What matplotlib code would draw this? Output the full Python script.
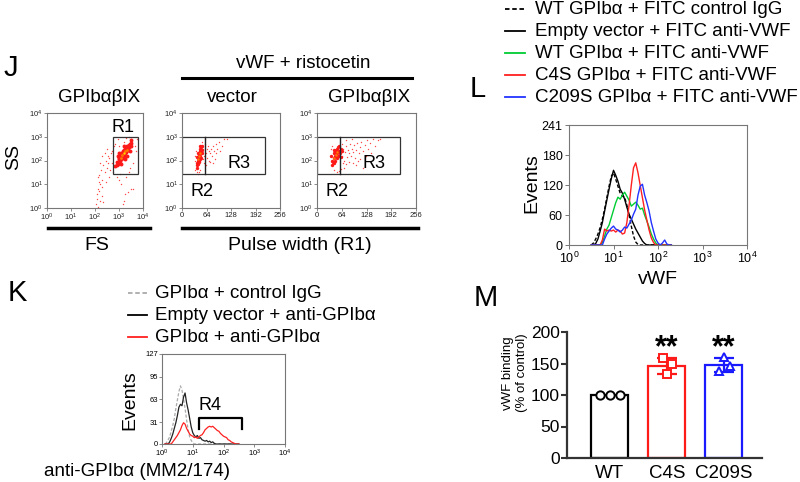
import numpy as np
import matplotlib
matplotlib.use("Agg")
import matplotlib.pyplot as plt
from matplotlib.lines import Line2D
from matplotlib.patches import Rectangle

plt.rcParams['font.family'] = ['Liberation Sans', 'DejaVu Sans']
plt.rcParams['mathtext.fontset'] = 'custom'
plt.rcParams['mathtext.rm'] = 'Liberation Sans'
plt.rcParams['mathtext.it'] = 'Liberation Sans:italic'
plt.rcParams['mathtext.bf'] = 'Liberation Sans:bold'

# ---------------- data ----------------
# panel J, scatter 1: log10(FS), log10(SS)
j1_sparse_fs = [2.05, 2.10, 2.12, 2.15, 2.08, 2.20, 2.18, 2.25, 2.30, 2.28, 2.35, 2.40, 2.45, 2.50, 2.55,
                2.60, 2.62, 2.65, 2.70, 2.72, 2.20, 2.30, 2.40, 2.50, 2.55, 2.12, 2.30, 2.45, 2.60, 2.75,
                2.80, 2.85, 2.90, 3.00, 3.10, 3.20, 3.15, 3.25, 3.50, 3.60, 3.30, 3.40, 3.60, 3.70, 3.50,
                3.40, 3.30, 3.55, 3.65, 3.20, 3.00, 3.05, 3.45, 2.95, 3.75, 2.22, 2.14, 2.33, 2.17, 3.38]
j1_sparse_ss = [0.15, 0.40, 0.80, 1.10, 0.60, 0.30, 1.40, 1.60, 0.90, 1.20, 1.80, 1.50, 2.00, 1.70, 1.90,
                2.10, 1.60, 2.30, 1.90, 2.40, 1.90, 2.20, 2.30, 2.50, 2.20, 0.05, 0.50, 1.10, 1.30, 1.50,
                2.60, 2.70, 1.30, 1.20, 1.00, 0.30, 0.15, 0.60, 0.80, 0.80, 1.30, 1.50, 1.90, 2.40, 2.90,
                3.00, 2.95, 2.70, 2.60, 2.80, 2.60, 1.45, 1.70, 2.90, 2.90, 1.00, 1.30, 0.25, 0.70, 0.67]
j1_core_fs = [2.85, 2.90, 2.92, 2.95, 2.98, 3.00, 3.02, 3.05, 3.05, 3.08, 3.10, 3.10, 3.12, 3.15, 3.15,
              3.18, 3.20, 3.20, 3.22, 3.25, 3.25, 3.28, 3.30, 3.30, 3.32, 3.35, 3.38, 3.40, 3.42, 3.45,
              3.48, 3.50, 3.00, 3.10, 3.25, 3.35, 2.95, 3.20, 3.45, 3.52]
j1_core_ss = [1.75, 1.80, 1.95, 1.85, 2.05, 1.90, 2.10, 2.00, 2.20, 2.15, 2.30, 2.05, 2.25, 2.10, 2.40,
              2.30, 2.20, 2.45, 2.35, 2.50, 2.30, 2.40, 2.55, 2.35, 2.50, 2.60, 2.45, 2.65, 2.55, 2.70,
              2.60, 2.75, 2.30, 1.85, 2.05, 2.20, 2.20, 2.60, 2.40, 2.85]
j1_hot_fs = [3.08, 3.14, 3.20, 3.26, 3.32]
j1_hot_ss = [2.12, 2.22, 2.30, 2.38, 2.46]

# panel J, scatter 2 (vector): pulse width, log10(SS)
j2_core_pw = [38, 40, 41, 42, 43, 44, 44, 45, 46, 46, 47, 48, 48, 49, 50, 51, 52, 40, 42, 50, 53, 39, 45, 47]
j2_core_ss = [1.80, 1.90, 2.00, 1.85, 2.10, 2.00, 2.25, 2.15, 2.30, 2.05, 2.40, 2.20, 2.50, 2.35, 2.55,
              2.30, 2.60, 2.15, 2.30, 2.10, 2.45, 1.70, 1.95, 2.60]
j2_hot_pw = [43, 45, 47]
j2_hot_ss = [2.08, 2.20, 2.32]
j2_sparse_pw = [35, 38, 41, 36, 34, 33, 55, 58, 60, 62, 64, 66, 68, 70, 72, 75, 78, 80, 84, 88,
                92, 96, 100, 105, 110, 117, 57, 63, 70, 74, 60, 52, 56, 85, 90, 82, 48, 44]
j2_sparse_ss = [1.60, 1.50, 1.45, 2.40, 2.00, 2.20, 2.50, 2.20, 2.70, 2.30, 2.50, 2.10, 2.60, 2.40,
                2.30, 2.50, 2.20, 2.60, 2.40, 2.30, 2.50, 2.80, 2.40, 2.60, 2.90, 2.90, 1.90, 1.80,
                2.00, 1.95, 2.90, 2.80, 2.05, 2.05, 2.70, 1.90, 1.60, 1.50]

# panel J, scatter 3 (GPIbaBIX): pulse width, log10(SS)
j3_core_pw = [40, 42, 44, 45, 46, 47, 48, 49, 50, 51, 52, 53, 54, 55, 56, 57, 58, 43, 45, 60, 62, 61, 64, 38, 36]
j3_core_ss = [1.80, 1.95, 2.10, 1.90, 2.20, 2.00, 2.35, 2.15, 2.45, 2.25, 2.50, 2.10, 2.35, 2.55, 2.20,
              2.40, 2.60, 2.30, 2.45, 2.30, 2.50, 2.15, 2.40, 2.00, 2.20]
j3_hot_pw = [45, 48, 51]
j3_hot_ss = [2.10, 2.22, 2.34]
j3_sparse_pw = [65, 68, 70, 72, 75, 78, 80, 82, 85, 88, 90, 92, 95, 98, 100, 104, 108, 110, 115, 120,
                124, 128, 132, 138, 144, 150, 158, 163, 66, 74, 84, 94, 105, 118, 64, 76, 90, 70, 62,
                58, 52, 45, 35, 38, 100, 112, 126, 140]
j3_sparse_ss = [2.20, 2.50, 2.00, 2.35, 2.60, 2.15, 2.45, 2.30, 2.70, 2.20, 2.50, 2.35, 2.65, 2.10,
                2.45, 2.75, 2.30, 2.55, 2.80, 2.40, 2.65, 2.85, 2.50, 2.75, 2.90, 2.60, 2.85, 2.90,
                1.90, 1.85, 1.95, 1.90, 2.00, 1.70, 2.70, 2.85, 2.90, 1.70, 1.65, 1.55, 1.50, 1.60,
                2.50, 2.60, 1.80, 2.05, 2.20, 2.30]

# panel L histograms (x = log10 vWF)
l_logx = [0.50, 0.55, 0.60, 0.65, 0.70, 0.75, 0.80, 0.85, 0.90, 0.95, 1.00, 1.05, 1.10, 1.15, 1.20,
          1.25, 1.30, 1.35, 1.40, 1.45, 1.50, 1.55, 1.60, 1.65, 1.70, 1.75, 1.80, 1.85, 1.90, 1.95,
          2.00, 2.05, 2.10, 2.15, 2.20, 2.25, 2.30]
l_ctrl_igg = [0, 4, 12, 22, 35, 52, 72, 95, 118, 138, 145, 132, 118, 104, 98, 96, 80, 60, 38, 18,
              6, 1, 0, 0, 0, 0, 0, 0, 0, 0, 0, 0, 0, 0, 0, 0, 0]
l_empty = [0, 0, 3, 12, 28, 45, 68, 90, 112, 133, 150, 140, 128, 112, 104, 92, 76, 62, 52, 42,
           32, 24, 16, 8, 3, 0, 0, 0, 0, 0, 0, 0, 0, 0, 0, 0, 0]
l_wt = [0, 0, 0, 0, 0, 5, 18, 32, 40, 55, 70, 85, 96, 92, 100, 106, 98, 90, 78, 82,
        86, 80, 72, 74, 60, 48, 36, 22, 12, 4, 0, 0, 0, 0, 0, 0, 0]
l_c4s = [0, 0, 0, 0, 0, 10, 32, 28, 30, 28, 30, 26, 30, 28, 22, 24, 45, 80, 120, 155,
         165, 145, 120, 95, 70, 50, 30, 14, 5, 0, 0, 0, 0, 0, 0, 0, 0]
l_c209s = [0, 0, 0, 0, 0, 0, 12, 22, 28, 34, 38, 32, 30, 26, 30, 36, 34, 42, 50, 62,
           72, 100, 118, 122, 100, 85, 68, 45, 28, 12, 4, 0, 4, 10, 2, 0, 0]
l_labels = ['WT GPIbα + FITC control IgG', 'Empty vector + FITC anti-VWF', 'WT GPIbα + FITC anti-VWF',
            'C4S GPIbα + FITC anti-VWF', 'C209S GPIbα + FITC anti-VWF']

# panel K histograms (x = log10 anti-GPIba)
k_logx = [0.10, 0.15, 0.20, 0.25, 0.30, 0.35, 0.40, 0.45, 0.50, 0.55, 0.60, 0.65, 0.70, 0.75, 0.80,
          0.85, 0.90, 0.95, 1.00, 1.05, 1.10, 1.15, 1.20, 1.25, 1.30, 1.35, 1.40, 1.45, 1.50, 1.55,
          1.60, 1.65, 1.70, 1.75, 1.80, 1.85, 1.90, 1.95, 2.00, 2.05, 2.10, 2.15, 2.20, 2.25, 2.30,
          2.35, 2.40, 2.45, 2.50]
k_ctrl = [0, 2, 6, 10, 18, 26, 36, 50, 62, 74, 82, 76, 64, 50, 34, 20, 10, 5, 2, 0,
          0, 0, 0, 0, 0, 0, 0, 0, 0, 0, 0, 0, 0, 0, 0, 0, 0, 0, 0, 0, 0, 0, 0, 0, 0, 0, 0, 0, 0]
k_empty = [0, 0, 0, 3, 8, 14, 22, 30, 40, 52, 56, 54, 66, 72, 58, 48, 36, 24, 16, 12,
           10, 12, 8, 9, 6, 5, 4, 5, 3, 4, 2, 3, 1, 0, 0, 0, 0, 0, 0, 0, 0, 0, 0, 0, 0, 0, 0, 0, 0]
k_gpiba = [0, 0, 0, 0, 0, 3, 6, 9, 12, 16, 20, 26, 30, 28, 22, 18, 14, 12, 11, 9,
           10, 8, 10, 12, 13, 16, 20, 22, 24, 25, 24, 25, 23, 21, 19, 18, 15, 13, 11, 10,
           9, 6, 5, 3, 2, 1, 0, 0, 0]
k_labels = ['GPIbα + control IgG', 'Empty vector + anti-GPIbα', 'GPIbα + anti-GPIbα']

# panel M
m_groups = ['WT', 'C4S', 'C209S']
m_wt = [100, 100, 100]
m_c4s = [158, 149, 133]
m_c209s = [160, 146, 138]

# ---------------- layout helpers ----------------
W, H = 800, 482
fig = plt.figure(figsize=(W / 100, H / 100), dpi=100)


def box(x0, y0, x1, y1):
    return [x0 / W, 1 - y1 / H, (x1 - x0) / W, (y1 - y0) / H]


def put(x, y, s, **kw):
    kw.setdefault('ha', 'center')
    kw.setdefault('va', 'center')
    fig.text(x / W, 1 - y / H, s, **kw)


def hline(x0, x1, y, lw=2.2, **kw):
    fig.add_artist(Line2D([x0 / W, x1 / W], [1 - y / H, 1 - y / H], color='black', lw=lw,
                          transform=fig.transFigure, **kw))


decades = ['$10^{0}$', '$10^{1}$', '$10^{2}$', '$10^{3}$', '$10^{4}$']
RED, ORANGE, YELLOW = '#ff1a1a', '#ff7a00', '#ffd400'


def flow_axes(rect, linear_x=False, fs=5.5):
    ax = fig.add_axes(rect)
    ax.set_yscale('log')
    ax.set_ylim(1, 1e4)
    ax.set_yticks([1, 10, 100, 1000, 10000])
    ax.set_yticklabels(decades)
    if linear_x:
        ax.set_xlim(0, 256)
        ax.set_xticks([0, 64, 128, 192, 256])
    else:
        ax.set_xscale('log')
        ax.set_xlim(1, 1e4)
        ax.set_xticks([1, 10, 100, 1000, 10000])
        ax.set_xticklabels(decades)
    ax.minorticks_off()
    for s in ax.spines.values():
        s.set_color('#777777')
        s.set_linewidth(0.8)
    ax.tick_params(length=2, width=0.6, color='#777777', labelsize=fs, pad=1, labelcolor='#222222')
    return ax


def pw(v):
    return np.array(v)


def lg(v):
    return 10 ** np.array(v)


# ---------------- panel J ----------------
ax1 = flow_axes(box(47, 113, 143, 208))
ax1.scatter(lg(j1_sparse_fs), lg(j1_sparse_ss), s=1.0, color=RED, lw=0, alpha=0.8)
ax1.scatter(lg(j1_core_fs), lg(j1_core_ss), s=8, color=RED, lw=0)
ax1.scatter(lg(j1_hot_fs), lg(j1_hot_ss), s=4, color=ORANGE, lw=0)
ax1.scatter(lg(j1_hot_fs[2:3]), lg(j1_hot_ss[2:3]), s=2, color=YELLOW, lw=0)
ax1.add_patch(Rectangle((10 ** 2.75, 10 ** 1.43), 10 ** 3.8 - 10 ** 2.75, 10 ** 3.0 - 10 ** 1.43,
                        fill=False, ec='#333333', lw=0.9))

for rect, core_pw, core_ss, hot_pw, hot_ss, sp_pw, sp_ss, r3_right in [
        (box(182, 113, 280, 208), j2_core_pw, j2_core_ss, j2_hot_pw, j2_hot_ss, j2_sparse_pw, j2_sparse_ss, 217),
        (box(317, 113, 416, 208), j3_core_pw, j3_core_ss, j3_hot_pw, j3_hot_ss, j3_sparse_pw, j3_sparse_ss, 215)]:
    ax = flow_axes(rect, linear_x=True)
    ax.scatter(pw(sp_pw), lg(sp_ss), s=1.0, color=RED, lw=0, alpha=0.8)
    ax.scatter(pw(core_pw), lg(core_ss), s=6, color=RED, lw=0)
    ax.scatter(pw(hot_pw), lg(hot_ss), s=3, color=ORANGE, lw=0)
    ax.add_patch(Rectangle((0, 10 ** 1.45), r3_right, 10 ** 3.0 - 10 ** 1.45, fill=False, ec='#333333', lw=0.9))
    ax.plot([60, 60], [10 ** 1.45, 10 ** 3.0], color='#222222', lw=1.0)
    ax.text(0.58, 0.47, 'R3', transform=ax.transAxes, fontsize=13, ha='center', va='center')
    ax.text(0.2, 0.17, 'R2', transform=ax.transAxes, fontsize=13, ha='center', va='center')

put(11, 68, 'J', fontsize=21)
put(99, 98, 'GPIbαβIX', fontsize=13.5)
put(123, 127, 'R1', fontsize=13)
put(232, 98, 'vector', fontsize=13.5)
put(369, 98, 'GPIbαβIX', fontsize=13.5)
put(303, 63, 'vWF + ristocetin', fontsize=13.5)
hline(182, 412, 78)
put(14, 157, 'SS', fontsize=14, rotation=90)
hline(48, 150, 228, lw=2.5)
put(97, 246, 'FS', fontsize=14)
hline(182, 418, 228, lw=2.5)
put(300, 246, 'Pulse width (R1)', fontsize=14)

# ---------------- panel L ----------------
axl = fig.add_axes(box(569, 125, 747, 245))
lx = lg(l_logx)
axl.plot(lx, l_ctrl_igg, color='black', lw=1.0, ls=(0, (2.5, 1.5)))
axl.plot(lx, l_empty, color='black', lw=1.0)
axl.plot(lx, l_wt, color='#00cc33', lw=1.0)
axl.plot(lx, l_c4s, color='#ff2020', lw=1.0)
axl.plot(lx, l_c209s, color='#2233ff', lw=1.0)
axl.set_xscale('log')
axl.set_xlim(1, 1e4)
axl.set_ylim(0, 241)
axl.set_xticks([1, 10, 100, 1000, 10000])
axl.set_xticklabels(decades)
axl.set_yticks([0, 60, 120, 180, 241])
axl.minorticks_off()
for s in axl.spines.values():
    s.set_color('#777777')
    s.set_linewidth(0.8)
axl.tick_params(length=3, width=0.7, color='#777777', labelsize=9, pad=1.5)

put(478, 89, 'L', fontsize=21)
l_colors = ['black', 'black', '#00cc33', '#ff2020', '#2233ff']
l_styles = [(0, (2.5, 1.5)), '-', '-', '-', '-']
for i, (lab, c, st) in enumerate(zip(l_labels, l_colors, l_styles)):
    y = 9 + 22 * i
    fig.add_artist(Line2D([505 / W, 525 / W], [1 - y / H] * 2, color=c, lw=1.3, ls=st,
                          transform=fig.transFigure))
    put(535, y, lab, fontsize=13.5, ha='left')
put(532, 183, 'Events', fontsize=14, rotation=90)
put(658, 279, 'vWF', fontsize=14)

# ---------------- panel K ----------------
axk = fig.add_axes(box(162, 354, 285, 444))
kx = lg(k_logx)
axk.plot(kx, k_ctrl, color='#aaaaaa', lw=0.9, ls=(0, (2.5, 1.5)))
axk.plot(kx, k_empty, color='#222222', lw=0.9)
axk.plot(kx, k_gpiba, color='#ff2020', lw=0.9)
axk.set_xscale('log')
axk.set_xlim(1, 1e4)
axk.set_ylim(0, 127)
axk.set_xticks([1, 10, 100, 1000, 10000])
axk.set_xticklabels(decades)
axk.set_yticks([0, 31, 63, 95, 127])
axk.minorticks_off()
for s in axk.spines.values():
    s.set_color('#777777')
    s.set_linewidth(0.8)
axk.tick_params(length=2, width=0.6, color='#777777', labelsize=5.5, pad=1)
# R4 gate bracket
axk.plot([10 ** 1.2, 10 ** 1.2, 10 ** 2.6, 10 ** 2.6], [21, 36.5, 36.5, 21], color='black', lw=1.6)
axk.text(10 ** 1.55, 43, 'R4', fontsize=13, ha='center', va='bottom')

put(17, 293, 'K', fontsize=21)
k_colors = ['#aaaaaa', 'black', '#ff2020']
k_styles = [(0, (2.5, 1.5)), '-', '-']
for i, (lab, c, st) in enumerate(zip(k_labels, k_colors, k_styles)):
    y = 293 + 22 * i
    fig.add_artist(Line2D([128 / W, 147 / W], [1 - y / H] * 2, color=c, lw=1.3, ls=st,
                          transform=fig.transFigure))
    put(155, y, lab, fontsize=13.5, ha='left')
put(130, 400, 'Events', fontsize=14, rotation=90)
put(137, 471, 'anti-GPIbα (MM2/174)', fontsize=13.5)

# ---------------- panel M ----------------
axm = fig.add_axes(box(567, 332, 762, 458))
m_data = [m_wt, m_c4s, m_c209s]
m_colors = ['black', '#ff1a1a', '#1a1aff']
m_markers = ['o', 's', '^']
m_jitter = [[-0.18, 0.0, 0.18], [-0.07, 0.1, 0.0], [0.0, 0.1, -0.08]]
xs = np.arange(len(m_groups))
means = [np.mean(d) for d in m_data]
sds = [np.std(d, ddof=1) for d in m_data]
axm.bar(xs, means, width=0.65, facecolor='white', edgecolor=m_colors, lw=1.6, zorder=2)
for i in range(len(m_groups)):
    if sds[i] > 0:
        axm.errorbar(xs[i], means[i], yerr=sds[i], fmt='none', ecolor=m_colors[i],
                     capsize=7, elinewidth=1.6, capthick=1.6, zorder=3)
    axm.plot(xs[i] + np.array(m_jitter[i]), m_data[i], ls='none', marker=m_markers[i], ms=6,
             mfc='white', mec=m_colors[i], mew=1.4, zorder=4)
    if i > 0:
        axm.text(xs[i], 161, '**', fontsize=22, ha='center', va='baseline', fontweight='bold')
axm.set_xlim(-0.75, 2.67)
axm.set_ylim(0, 200)
axm.set_yticks([0, 50, 100, 150, 200])
axm.set_xticks(xs)
axm.set_xticklabels(m_groups)
axm.spines['top'].set_visible(False)
axm.spines['right'].set_visible(False)
for s in ['left', 'bottom']:
    axm.spines[s].set_color('#333333')
    axm.spines[s].set_linewidth(1.6)
axm.tick_params(axis='y', length=4, width=1.5, color='#333333', labelsize=12.5, pad=1)
axm.tick_params(axis='x', length=0, labelsize=13.5, pad=5)
put(486, 298, 'M', fontsize=21)
put(515, 373, 'vWF binding\n(% of control)', fontsize=9.5, rotation=90, linespacing=1.15)

fig.savefig('out.png', dpi=100)
